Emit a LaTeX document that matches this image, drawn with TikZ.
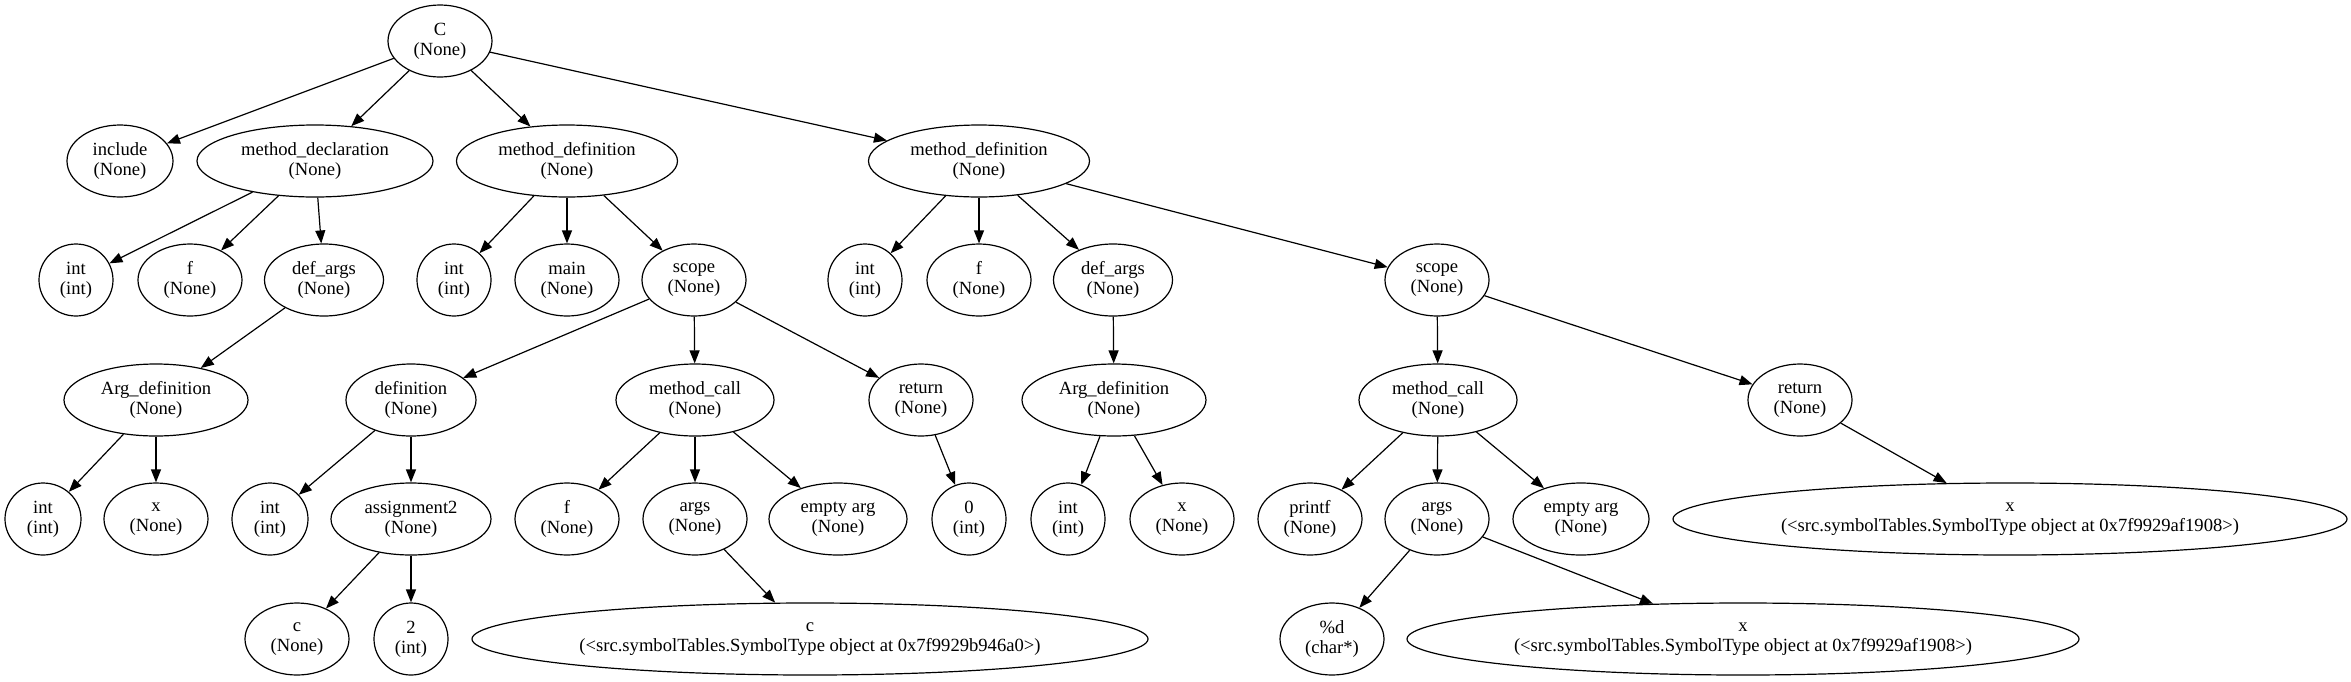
\documentclass[tikz,border=0pt]{standalone}
\usepackage{fontspec}
\setmainfont{Liberation Serif}
\usetikzlibrary{shapes.geometric,arrows.meta}
\tikzset{
  nd/.style={draw, ellipse, line width=0.6pt, inner sep=0pt, minimum height=36pt,
    minimum width=#1, align=center, font=\fontsize{9.3}{10}\selectfont},
  nd/.default=52pt,
  link/.style={line width=0.6pt, -{Triangle[length=6.5pt,width=5pt]}}
}
\begin{document}
\begin{tikzpicture}[x=0.5pt,y=-0.5pt]
  \useasboundingbox (0,0) rectangle (2351,681);
  % level 0 and 1
  \node[nd] (C) at (440,41) {C\\(None)};
  \node[nd=53pt] (inc) at (120,161) {include\\(None)};
  \node[nd=118pt] (mdecl) at (315,161) {method\_declaration\\(None)};
  \node[nd=110.5pt] (mdefa) at (567,161) {method\_definition\\(None)};
  \node[nd=110.5pt] (mdefb) at (979,161) {method\_definition\\(None)};
  % level 2
  \node[nd=37pt] (inta) at (76,280) {int\\(int)};
  \node[nd] (fa) at (190,280) {f\\(None)};
  \node[nd=59.5pt] (dargsa) at (324,280) {def\_args\\(None)};
  \node[nd=37pt] (intb) at (454,280) {int\\(int)};
  \node[nd] (main) at (567,280) {main\\(None)};
  \node[nd] (scopea) at (694,280) {scope\\(None)};
  \node[nd=37pt] (intc) at (865,280) {int\\(int)};
  \node[nd] (fb) at (979,280) {f\\(None)};
  \node[nd=59.5pt] (dargsb) at (1113,280) {def\_args\\(None)};
  \node[nd] (scopeb) at (1437,280) {scope\\(None)};
  % level 3
  \node[nd=92pt] (argdefa) at (156,400) {Arg\_definition\\(None)};
  \node[nd=65pt] (defn) at (411,400) {definition\\(None)};
  \node[nd=79pt] (calla) at (695,400) {method\_call\\(None)};
  \node[nd] (reta) at (921,400) {return\\(None)};
  \node[nd=92pt] (argdefb) at (1114,400) {Arg\_definition\\(None)};
  \node[nd=79pt] (callb) at (1438,400) {method\_call\\(None)};
  \node[nd] (retb) at (1800,400) {return\\(None)};
  % level 4
  \node[nd=38pt] (intd) at (43,519) {int\\(int)};
  \node[nd] (xa) at (156,519) {x\\(None)};
  \node[nd=38pt] (inte) at (270,519) {int\\(int)};
  \node[nd=80pt] (assign) at (411,519) {assignment2\\(None)};
  \node[nd] (fc) at (567,519) {f\\(None)};
  \node[nd] (argsa) at (695,519) {args\\(None)};
  \node[nd=69pt] (emptya) at (838,519) {empty arg\\(None)};
  \node[nd=37pt] (zero) at (969,519) {0\\(int)};
  \node[nd=37pt] (intf) at (1068,519) {int\\(int)};
  \node[nd] (xb) at (1182,519) {x\\(None)};
  \node[nd] (printf) at (1310,519) {printf\\(None)};
  \node[nd] (argsb) at (1437,519) {args\\(None)};
  \node[nd=68pt] (emptyb) at (1581,519) {empty arg\\(None)};
  \node[nd=337pt] (symc) at (2010,519) {x\\(<src.symbolTables.SymbolType object at 0x7f9929af1908>)};
  % level 5
  \node[nd] (c) at (297,639) {c\\(None)};
  \node[nd=37pt] (two) at (411,639) {2\\(int)};
  \node[nd=338pt] (syma) at (810,639) {c\\(<src.symbolTables.SymbolType object at 0x7f9929b946a0>)};
  \node[nd] (fmt) at (1332,639) {\%d\\(char*)};
  \node[nd=336pt] (symb) at (1743,639) {x\\(<src.symbolTables.SymbolType object at 0x7f9929af1908>)};
  % edges
  \foreach \a/\b in {C/inc, C/mdecl, C/mdefa, C/mdefb,
      mdecl/inta, mdecl/fa, mdecl/dargsa, dargsa/argdefa, argdefa/intd, argdefa/xa,
      mdefa/intb, mdefa/main, mdefa/scopea, scopea/defn, scopea/calla, scopea/reta,
      defn/inte, defn/assign, assign/c, assign/two,
      calla/fc, calla/argsa, calla/emptya, argsa/syma, reta/zero,
      mdefb/intc, mdefb/fb, mdefb/dargsb, mdefb/scopeb, dargsb/argdefb,
      argdefb/intf, argdefb/xb, scopeb/callb, scopeb/retb,
      callb/printf, callb/argsb, callb/emptyb, argsb/fmt, argsb/symb, retb/symc}
    \draw[link] (\a) -- (\b);
\end{tikzpicture}
\end{document}
